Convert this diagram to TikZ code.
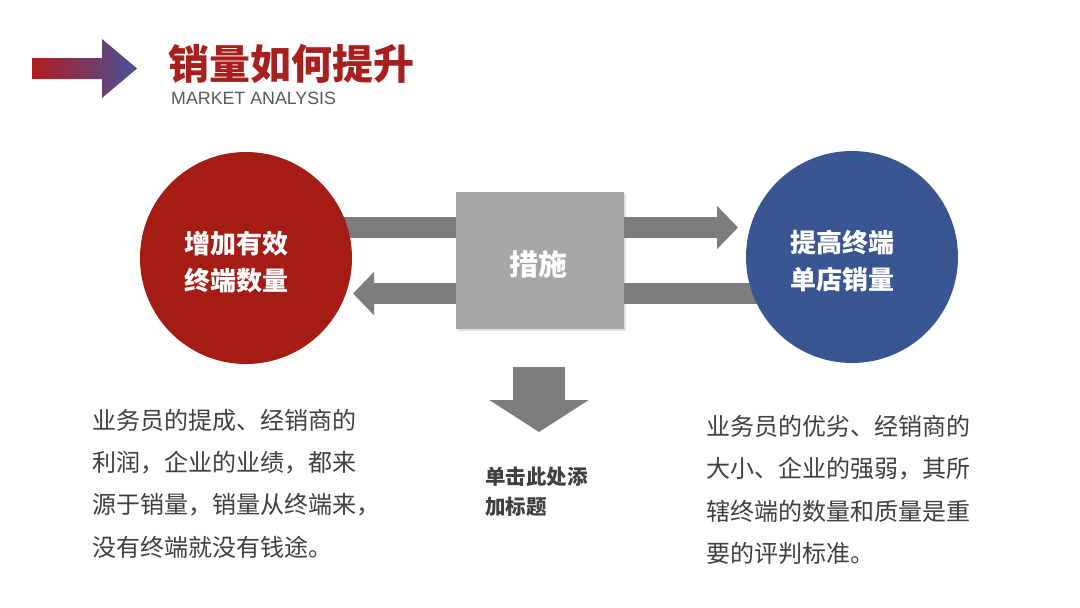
\documentclass[tikz,border=0pt]{standalone}
\usepackage{fontspec}
\setmainfont{Noto Sans CJK SC}
\newfontfamily\latinsans{Liberation Sans}
\usetikzlibrary{arrows.meta,shadows}
\definecolor{titlered}{RGB}{168,32,30}
\definecolor{circred}{RGB}{165,28,20}
\definecolor{circblue}{RGB}{57,85,146}
\definecolor{boxgray}{RGB}{166,166,166}
\definecolor{arrgray}{RGB}{125,125,125}
\definecolor{txtgray}{RGB}{64,64,64}
\definecolor{subgray}{RGB}{90,90,90}
\definecolor{hdred}{RGB}{178,28,30}
\definecolor{hdblue}{RGB}{70,82,155}
\tikzset{
  bigcirc/.style={circle, minimum size=212pt, inner sep=0pt},
  circtext/.style={inner sep=0pt, text=white, font=\bfseries\fontsize{26}{37}\selectfont, align=center},
  hbar/.style={draw=arrgray, line width=21pt, -{Triangle[length=21pt,width=42pt]}},
  bodytext/.style={anchor=west, inner sep=0pt, align=left, text=txtgray, font=\fontsize{24}{42.3}\selectfont},
}
\begin{document}
\begin{tikzpicture}[x=1pt,y=-1pt]
\useasboundingbox[fill=white] (0,0) rectangle (1080,608);
% header arrow
\shade[left color=hdred, right color=hdblue] (32,58) -- (102,58) -- (102,39) -- (137,68.5) -- (102,98) -- (102,79) -- (32,79) -- cycle;
\node[anchor=west, inner sep=0pt, text=titlered, font=\bfseries\fontsize{41}{41}\selectfont] (title) at (168,64) {销量如何提升};
\node[anchor=west, inner sep=0pt, text=subgray, font=\latinsans\fontsize{17.8}{17.8}\selectfont] (sub) at (171,98) {MARKET ANALYSIS};
% coordinates for arrows
\coordinate (uA) at (300,227.5);
\coordinate (uB) at (738,227.5);
\coordinate (lA) at (800,293.5);
\coordinate (lB) at (353,293.5);
\draw[hbar] (uA) -- (uB);
\draw[hbar] (lA) -- (lB);
% nodes
\node[bigcirc, fill=circred] (red) at (246,258) {};
\node[circtext] (redtxt) at (236,262) {增加有效\\终端数量};
\node[bigcirc, fill=circblue] (blue) at (852,257) {};
\node[circtext] (bluetxt) at (842,261) {提高终端\\单店销量};
\node[fill=boxgray, minimum width=168pt, minimum height=137pt, inner sep=0pt,
  drop shadow={opacity=0.25, shadow xshift=2pt, shadow yshift=-2pt}] (box) at (539.5,260.5) {};
\node[inner sep=0pt, text=white, font=\bfseries\fontsize{29}{29}\selectfont] (boxtxt) at (538.5,264.5) {措施};
% down arrow
\coordinate (dA) at (539,367);
\coordinate (dB) at (539,432);
\draw[draw=arrgray, line width=52pt, -{Triangle[length=32pt,width=98pt]}] (dA) -- (dB);
\node[anchor=west, inner sep=0pt, align=left, text=txtgray, font=\bfseries\fontsize{20.5}{30}\selectfont] (dt) at (485,492) {单击此处添\\加标题};
% body texts
\node[bodytext] (lt) at (92,483.5) {业务员的提成、经销商的\\利润，企业的业绩，都来\\源于销量，销量从终端来，\\没有终端就没有钱途。};
\node[bodytext] (rt) at (706,490) {业务员的优劣、经销商的\\大小、企业的强弱，其所\\辖终端的数量和质量是重\\要的评判标准。};
\end{tikzpicture}
\end{document}
